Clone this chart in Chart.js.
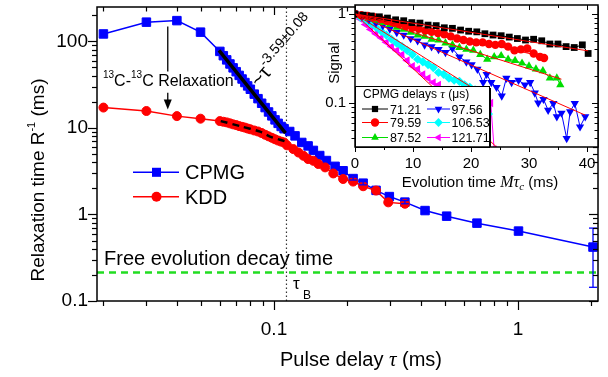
<!DOCTYPE html>
<html><head><meta charset="utf-8">
<script src="https://cdn.jsdelivr.net/npm/chart.js@4.4.1/dist/chart.umd.min.js"></script>
<style>
html,body{margin:0;padding:0;background:#fff;}
#wrap{position:relative;width:608px;height:377px;overflow:hidden;}
#main{position:absolute;left:0;top:0;}
#inset{position:absolute;left:300px;top:0;}
</style></head><body>
<div id="wrap"><canvas id="main" width="608" height="377"></canvas><canvas id="inset" width="308" height="195"></canvas></div>
<script>
// ================= DATA (main chart) =================
const cpmgTau = [0.02,0.03,0.04,0.05,0.060,0.062,0.064,0.066,0.068,0.070,0.072,0.074,0.076,0.078,0.080,0.083,0.086,0.089,0.092,0.095,0.098,0.101,0.104,0.107,0.110,0.116,0.122,0.130,0.138,0.145,0.154,0.164,0.178,0.192,0.211,0.232,0.262,0.297,0.344,0.416,0.510,0.679,1.005,2.03];
const cpmgR   = [122,167,174,128,76.7,68.4,61.2,54.9,49.5,44.7,40.5,36.8,33.5,30.6,28.0,24.6,21.8,19.3,17.2,15.3,13.8,12.4,11.3,10.4,9.8,9.1,8.1,6.8,6.2,5.5,4.8,4.2,3.6,3.2,2.6,2.3,1.9,1.61,1.39,1.11,0.956,0.794,0.643,0.42];
const kddTau  = [0.02,0.03,0.04,0.05,0.060,0.062,0.064,0.066,0.068,0.070,0.072,0.074,0.076,0.078,0.080,0.083,0.086,0.089,0.092,0.095,0.098,0.101,0.104,0.107,0.110,0.113,0.120,0.126,0.132,0.138,0.145,0.152,0.162,0.175,0.192,0.211,0.232,0.262,0.294,0.344];
const kddR    = [17.2,15.7,13.7,12.8,12.0,11.8,11.6,11.3,11.0,10.8,10.5,10.3,10.1,9.85,9.65,9.35,9.1,8.75,8.35,8.0,7.7,7.4,7.15,6.95,6.8,6.3,5.7,5.2,4.77,4.37,4.17,3.83,3.5,2.98,2.57,2.4,2.12,1.89,1.38,1.33];
const cpmgErrTau = [0.211,0.232,0.344,2.03];
const cpmgErrLo  = [2.5,2.2,1.33,0.144];
const cpmgErrHi  = [2.7,2.4,1.45,0.696];
const kddErrTau  = [0.232,0.294,0.344];
const kddErrLo   = [2.02,1.30,1.24];
const kddErrHi   = [2.22,1.47,1.43];
const fitCpmgTau = [0.0595,0.1115];
const fitCpmgR   = [79,8.7];
const fitKddTau  = [0.0605,0.0726,0.0877,0.0963,0.1105];
const fitKddR    = [12.0,10.5,9.06,7.95,7.05];
const freeDecayR = 0.214;
const tauB = 0.1125;
const xTickVals = [0.1,1];
const yTickVals = [0.1,1,10,100];
// ================= DATA (inset) =================
const t71 = [0,1.4,2.8,4.2,5.6,7,8.4,9.8,11.2,12.6,14,15.4,16.8,18.2,19.6,21,22.4,23.8,25.2,26.6,28,29.4,30.8,32.2,33.6,35,36.4,37.8,39.2,40.2];
const s71 = [1,0.97,0.95,0.93,0.90,0.86,0.84,0.80,0.79,0.75,0.74,0.70,0.69,0.66,0.64,0.63,0.60,0.58,0.57,0.55,0.53,0.51,0.52,0.50,0.46,0.46,0.43,0.42,0.45,0.36];
const t80 = [0,1.1,2.2,3.3,4.4,5.5,6.6,7.7,8.8,9.9,11,12.1,13.2,14.3,15.4,16.5,17.6,18.7,19.8,20.9,22,23.1,24.2,25.3,26.4,27.5,28.6,29.7,30.8,31.9,32.6];
const s80 = [1,0.97,0.95,0.92,0.88,0.84,0.80,0.77,0.73,0.70,0.68,0.65,0.63,0.61,0.59,0.56,0.53,0.51,0.49,0.48,0.48,0.46,0.45,0.46,0.43,0.39,0.40,0.41,0.36,0.33,0.32];
const t88 = [0,1.2,2.4,3.6,4.8,6,7.2,8.4,9.6,10.8,12,13.2,14.4,15.6,16.8,18,19.2,20.4,21.6,22.8,24,25.2,26.4,27.6,28.8,30,31.2,32.4,33.6,34.8,35.4];
const s88 = [1,0.95,0.90,0.85,0.80,0.76,0.71,0.67,0.62,0.58,0.56,0.52,0.51,0.47,0.45,0.42,0.40,0.39,0.35,0.31,0.33,0.34,0.31,0.30,0.28,0.26,0.24,0.23,0.19,0.19,0.16];
const t98 = [0,1.2,2.4,3.6,4.8,6,7.2,8.4,9.6,10.8,12,13.2,14.4,15.6,16.8,18,19.2,20.1,21.1,22.1,22.7,23.5,24.4,25.3,26.1,27,28.2,29.3,30.2,31,31.6,32.5,33.3,34.2,34.8,35.6,36.5,37.1,37.9,38.8,39.7];
const s98 = [1,0.93,0.86,0.79,0.74,0.68,0.62,0.58,0.53,0.50,0.45,0.43,0.40,0.37,0.41,0.33,0.29,0.27,0.24,0.17,0.21,0.17,0.15,0.12,0.19,0.17,0.18,0.16,0.17,0.13,0.10,0.11,0.083,0.099,0.07,0.077,0.04,0.08,0.099,0.054,0.07];
const t107 = [0,0.9,1.8,2.7,3.6,4.5,5.4,6.3,7.2,8.1,9,9.9,10.8,11.7,12.6,13.5,14.4,15.3,16.2,17.1,18,18.9,19.8,20.7,21.6,22.5,23.0];
const s107 = [1,0.92,0.85,0.78,0.71,0.64,0.58,0.52,0.47,0.43,0.39,0.35,0.31,0.29,0.27,0.25,0.22,0.21,0.19,0.18,0.175,0.16,0.15,0.14,0.12,0.09,0.075];
const t122 = [0,0.9,1.8,2.7,3.6,4.5,5.4,6.3,7.2,8.1,9,9.9,10.8,11.7,12.6,13.5,14.4,15.3,16.2,17.1,18,18.9,19.8,20.7,21.6,22.5,23.4,24.0];
const s122 = [1,0.88,0.76,0.67,0.60,0.54,0.48,0.43,0.39,0.35,0.30,0.26,0.24,0.21,0.19,0.17,0.16,0.13,0.12,0.11,0.10,0.09,0.08,0.075,0.07,0.085,0.10,0.03];
const fitT = [[0,40.2],[0,32.6],[0,35.6],[0,39.7],[0,23.0],[0,24.4]];
const fitS = [[1,0.385],[1,0.33],[1,0.185],[1,0.073],[1,0.114],[1,0.032]];
const insetLabels = ['71.21','79.59','87.52','97.56','106.53','121.71'];
const insetXTicks = [0,10,20,30,40];
const insetYTicks = [0.1,1];

// ================= helpers =================
const FONT = '"Liberation Sans", Arial, Helvetica, sans-serif';
const SERIF = '"Liberation Serif", "Times New Roman", serif';
const pts = (xs, ys) => xs.map((x, i) => ({x: x, y: ys[i]}));
function rich(ctx, x, y, parts, align) {
  let w = 0;
  for (const p of parts) { ctx.font = p.f; p.w = ctx.measureText(p.t).width; w += p.w; }
  let cx = align === 'center' ? x - w / 2 : (align === 'right' ? x - w : x);
  for (const p of parts) { ctx.font = p.f; ctx.fillText(p.t, cx, y + (p.dy || 0)); cx += p.w; }
}
function marker(ctx, style, x, y, r, rot) {
  ctx.beginPath();
  if (style === 'rect') { const s = r * Math.SQRT1_2; ctx.rect(x - s, y - s, 2 * s, 2 * s); }
  else if (style === 'circle') { ctx.arc(x, y, r, 0, Math.PI * 2); }
  else if (style === 'rectRot') { ctx.moveTo(x, y - r); ctx.lineTo(x + r, y); ctx.lineTo(x, y + r); ctx.lineTo(x - r, y); ctx.closePath(); }
  else if (style === 'triangle') {
    let a = (rot || 0) * Math.PI / 180;
    for (let i = 0; i < 3; i++) { const px = x + Math.sin(a) * r, py = y - Math.cos(a) * r; if (i) ctx.lineTo(px, py); else ctx.moveTo(px, py); a += 2 * Math.PI / 3; }
    ctx.closePath();
  }
  ctx.fill();
}
function logTicks(min, max) {
  const out = [];
  for (let e = Math.floor(Math.log10(min)) - 1; e <= Math.ceil(Math.log10(max)); e++) {
    for (let k = 1; k < 10; k++) {
      const v = parseFloat((k * Math.pow(10, e)).toPrecision(6));
      if (v >= min * 0.9999 && v <= max * 1.0001) out.push({v: v, major: k === 1});
    }
  }
  return out;
}
function seg(ctx, x1, y1, x2, y2) { ctx.beginPath(); ctx.moveTo(x1, y1); ctx.lineTo(x2, y2); ctx.stroke(); }
function fixH(h) { return s => { s.height = h; s.paddingLeft = 0; s.paddingRight = 0; s.paddingTop = 0; s.paddingBottom = 0; }; }
function fixW(w) { return s => { s.width = w; s.paddingLeft = 0; s.paddingRight = 0; s.paddingTop = 0; s.paddingBottom = 0; }; }

// ================= MAIN CHART =================
const X_MIN = 0.01882, X_MAX = 2.128, Y_MIN = 0.1, Y_MAX = 250;

const mainDecor = {
  id: 'mainDecor',
  afterDatasetsDraw(chart) {
    const ctx = chart.ctx, xs = chart.scales.x, ys = chart.scales.y;
    ctx.save();
    const eb = (taus, lo, hi, color, cap) => {
      ctx.strokeStyle = color; ctx.lineWidth = 1.3;
      taus.forEach((t, i) => {
        const px = xs.getPixelForValue(t), y1 = ys.getPixelForValue(lo[i]), y2 = ys.getPixelForValue(hi[i]);
        seg(ctx, px, y1, px, y2); seg(ctx, px - cap, y1, px + cap, y1); seg(ctx, px - cap, y2, px + cap, y2);
      });
    };
    eb(kddErrTau, kddErrLo, kddErrHi, '#ff0000', 3.5);
    eb(cpmgErrTau, cpmgErrLo, cpmgErrHi, '#0000ff', 4);
    // arrow (13C-13C relaxation)
    const ax = xs.getPixelForValue(0.0367);
    ctx.strokeStyle = '#000'; ctx.fillStyle = '#000'; ctx.lineWidth = 1.3;
    seg(ctx, ax, ys.getPixelForValue(149), ax, ys.getPixelForValue(45));
    const tipY = ys.getPixelForValue(16.3);
    seg(ctx, ax, ys.getPixelForValue(25.5), ax, tipY - 8);
    ctx.beginPath(); ctx.moveTo(ax, tipY); ctx.lineTo(ax - 4, tipY - 10); ctx.lineTo(ax + 4, tipY - 10); ctx.closePath(); ctx.fill();
    ctx.restore();
  },
  afterDraw(chart) {
    const ctx = chart.ctx, xs = chart.scales.x, ys = chart.scales.y, a = chart.chartArea;
    ctx.save();
    ctx.strokeStyle = '#000'; ctx.lineWidth = 1.2;
    logTicks(xs.min, xs.max).forEach(t => {
      const px = Math.round(xs.getPixelForValue(t.v)) + 0.5;
      seg(ctx, px, a.bottom, px, a.bottom + (t.major ? 9 : 5));
      seg(ctx, px, a.top, px, a.top + (t.major ? 8 : 4.5));
    });
    logTicks(ys.min, ys.max).forEach(t => {
      const py = Math.round(ys.getPixelForValue(t.v)) + 0.5;
      seg(ctx, a.left, py, a.left - (t.major ? 9 : 5), py);
      seg(ctx, a.right, py, a.right - (t.major ? 9 : 5), py);
    });
    ctx.lineWidth = 1.5;
    ctx.strokeRect(a.left, a.top, a.right - a.left, a.bottom - a.top);
    ctx.fillStyle = '#000'; ctx.textBaseline = 'alphabetic';
    rich(ctx, 361, 366, [{t: 'Pulse delay ', f: '20px ' + FONT}, {t: 'τ', f: 'italic 21px ' + SERIF}, {t: ' (ms)', f: '20px ' + FONT}], 'center');
    ctx.save(); ctx.translate(44, 180); ctx.rotate(-Math.PI / 2);
    rich(ctx, 0, 0, [{t: 'Relaxation time R', f: '19px ' + FONT}, {t: '-1', f: '11px ' + FONT, dy: -9}, {t: ' (ms)', f: '19px ' + FONT}], 'center');
    ctx.restore();
    const lg = [{y: 172.3, c: '#0000ff', s: 'rect', r: 6.4, t: 'CPMG', ty: 178.5}, {y: 196.7, c: '#ff0000', s: 'circle', r: 5, t: 'KDD', ty: 203.5}];
    lg.forEach(e => {
      ctx.strokeStyle = e.c; ctx.fillStyle = e.c; ctx.lineWidth = 1.5;
      seg(ctx, 133, e.y, 179, e.y); marker(ctx, e.s, 156.5, e.y, e.r);
      ctx.fillStyle = '#000'; ctx.font = '20px ' + FONT; ctx.fillText(e.t, 185, e.ty);
    });
    rich(ctx, 103, 86, [{t: '13', f: '10px ' + FONT, dy: -8}, {t: 'C-', f: '16px ' + FONT}, {t: '13', f: '10px ' + FONT, dy: -8}, {t: 'C Relaxation', f: '16px ' + FONT}], 'left');
    ctx.font = '20px ' + FONT; ctx.fillText('Free evolution decay time', 104, 265);
    ctx.font = '17px ' + FONT; ctx.fillText('τ', 293, 288.5);
    ctx.font = '12px ' + FONT; ctx.fillText('B', 303, 298.5);
    ctx.save(); ctx.translate(259, 88); ctx.rotate(-49 * Math.PI / 180);
    rich(ctx, 0, 0, [{t: '~τ', f: '20px ' + FONT}, {t: '-3.59±0.08', f: '14px ' + FONT, dy: -9}], 'left');
    ctx.restore();
    ctx.restore();
  }
};

new Chart(document.getElementById('main'), {
  type: 'scatter',
  data: {
    datasets: [
      {label: 'fitCPMG', data: pts(fitCpmgTau, fitCpmgR), showLine: true, borderColor: '#000', borderWidth: 3.5, pointRadius: 0, order: 0},
      {label: 'fitKDD', data: pts(fitKddTau, fitKddR), showLine: true, borderColor: '#000', borderWidth: 2.5, borderDash: [7, 5], pointRadius: 0, tension: 0.3, order: 0},
      {label: 'KDD', data: pts(kddTau, kddR), showLine: true, borderColor: '#ff0000', backgroundColor: '#ff0000', borderWidth: 1.5, pointStyle: 'circle', pointRadius: 4.5, pointBorderWidth: 1, order: 1},
      {label: 'CPMG', data: pts(cpmgTau, cpmgR), showLine: true, borderColor: '#0000ff', backgroundColor: '#0000ff', borderWidth: 1.5, pointStyle: 'rect', pointRadius: 6, pointBorderWidth: 1, order: 2},
      {label: 'free', data: pts([X_MIN, X_MAX], [freeDecayR, freeDecayR]), showLine: true, borderColor: '#22dd22', borderWidth: 2.5, borderDash: [7, 5], pointRadius: 0, order: 3},
      {label: 'tauB', data: pts([tauB, tauB], [Y_MIN, Y_MAX]), showLine: true, borderColor: '#333', borderWidth: 1.2, borderDash: [1.5, 2.5], pointRadius: 0, order: 4}
    ]
  },
  options: {
    responsive: false, animation: false, devicePixelRatio: 1,
    layout: {padding: {left: 0, right: 10, top: 5, bottom: 0}},
    plugins: {legend: {display: false}, tooltip: {enabled: false}},
    scales: {
      x: {type: 'logarithmic', min: X_MIN, max: X_MAX,
          afterBuildTicks: s => { s.ticks = xTickVals.map(v => ({value: v})); },
          afterFit: fixH(76),
          grid: {display: false, drawTicks: false}, border: {display: false},
          ticks: {color: '#000', font: {family: FONT, size: 19}, padding: 17, autoSkip: false, maxRotation: 0, callback: v => String(v)}},
      y: {type: 'logarithmic', min: Y_MIN, max: Y_MAX,
          afterBuildTicks: s => { s.ticks = yTickVals.map(v => ({value: v})); },
          afterFit: fixW(97),
          grid: {display: false, drawTicks: false}, border: {display: false},
          ticks: {color: '#000', font: {family: FONT, size: 19}, padding: 9, autoSkip: false, callback: v => String(v)}}
    }
  },
  plugins: [mainDecor]
});

// ================= INSET CHART =================
const IX_MIN = 0, IX_MAX = 41.9, IY_MIN = 0.032, IY_MAX = 1.262;
const insetStyles = [
  {c: '#000000', s: 'rect', r: 4.8, rot: 0},
  {c: '#ff0000', s: 'circle', r: 4.2, rot: 0},
  {c: '#00dd00', s: 'triangle', r: 4.8, rot: 0},
  {c: '#0000ff', s: 'triangle', r: 4.8, rot: 180},
  {c: '#00ffff', s: 'rectRot', r: 4.6, rot: 0},
  {c: '#ff00ff', s: 'triangle', r: 4.8, rot: -90}
];
const insetT = [t71, t80, t88, t98, t107, t122];
const insetS = [s71, s80, s88, s98, s107, s122];

const insetDecor = {
  id: 'insetDecor',
  beforeDraw(chart) {
    const ctx = chart.ctx, a = chart.chartArea;
    ctx.save(); ctx.fillStyle = '#fff'; ctx.fillRect(a.left, a.top, a.right - a.left, a.bottom - a.top); ctx.restore();
  },
  afterDraw(chart) {
    const ctx = chart.ctx, xs = chart.scales.x, ys = chart.scales.y, a = chart.chartArea;
    ctx.save();
    const L = 55, T = 86, R = 190, B = 147;
    ctx.fillStyle = '#fff'; ctx.fillRect(L, T, R - L, B - T);
    ctx.strokeStyle = '#000'; ctx.lineWidth = 1; ctx.strokeRect(L + 0.5, T + 0.5, R - L - 1, B - T);
    ctx.lineWidth = 2; seg(ctx, R, T + 2, R, B);
    ctx.fillStyle = '#000'; ctx.textBaseline = 'alphabetic';
    rich(ctx, 63, 98, [{t: 'CPMG delays ', f: '12px ' + FONT}, {t: 'τ', f: 'italic 13px ' + SERIF}, {t: ' (μs)', f: '12px ' + FONT}], 'left');
    const rowsY = [109, 122.5, 137.5], txtY = [113.5, 127, 142];
    const cols = [{x1: 62, x2: 88, mx: 75, tx: 90}, {x1: 127, x2: 150, mx: 138.5, tx: 151.5}];
    insetStyles.forEach((st, i) => {
      const col = cols[Math.floor(i / 3)], row = i % 3;
      ctx.strokeStyle = st.c; ctx.fillStyle = st.c; ctx.lineWidth = 1;
      seg(ctx, col.x1, rowsY[row], col.x2, rowsY[row]);
      marker(ctx, st.s, col.mx, rowsY[row], Math.min(st.r, 4.4), st.rot);
      ctx.fillStyle = '#000'; ctx.font = '12.5px ' + FONT; ctx.fillText(insetLabels[i], col.tx, txtY[row]);
    });
    ctx.strokeStyle = '#000'; ctx.lineWidth = 1;
    for (let v = 0; v <= 40; v += 5) {
      const px = Math.round(xs.getPixelForValue(v)) + 0.5, maj = v % 10 === 0;
      seg(ctx, px, a.bottom, px, a.bottom + (maj ? 5 : 3));
      seg(ctx, px, a.top, px, a.top + (maj ? 5 : 3));
    }
    logTicks(ys.min, ys.max).forEach(t => {
      const py = Math.round(ys.getPixelForValue(t.v)) + 0.5;
      seg(ctx, a.left, py, a.left - (t.major ? 6 : 3.5), py);
      seg(ctx, a.right, py, a.right - (t.major ? 6 : 3.5), py);
    });
    ctx.lineWidth = 1.5;
    ctx.strokeRect(a.left, a.top, a.right - a.left, a.bottom - a.top);
    ctx.fillStyle = '#000';
    rich(ctx, 180, 187, [{t: 'Evolution time ', f: '15px ' + FONT}, {t: 'Mτ', f: 'italic 16px ' + SERIF}, {t: 'c', f: 'italic 11px ' + SERIF, dy: 3}, {t: ' (ms)', f: '15px ' + FONT}], 'center');
    ctx.save(); ctx.translate(38.5, 63); ctx.rotate(-Math.PI / 2);
    ctx.font = '15px ' + FONT; ctx.textAlign = 'center'; ctx.fillText('Signal', 0, 0);
    ctx.restore();
    ctx.restore();
  }
};

const insetDatasets = [];
fitT.forEach((ft, i) => insetDatasets.push({label: 'fit' + i, data: pts(ft, fitS[i]), showLine: true, borderColor: '#ff0000', borderWidth: 1, pointRadius: 0, order: 0}));
insetStyles.forEach((st, i) => insetDatasets.push({
  label: insetLabels[i], data: pts(insetT[i], insetS[i]), showLine: true,
  borderColor: st.c, backgroundColor: st.c, borderWidth: 1,
  pointStyle: st.s, pointRadius: st.r, pointRotation: st.rot, pointBorderWidth: 0, order: 1 + i
}));

new Chart(document.getElementById('inset'), {
  type: 'scatter',
  data: {datasets: insetDatasets},
  options: {
    responsive: false, animation: false, devicePixelRatio: 1,
    layout: {padding: {left: 0, right: 10, top: 5, bottom: 0}},
    plugins: {legend: {display: false}, tooltip: {enabled: false}},
    scales: {
      x: {type: 'linear', min: IX_MIN, max: IX_MAX,
          afterBuildTicks: s => { s.ticks = insetXTicks.map(v => ({value: v})); },
          afterFit: fixH(48),
          grid: {display: false, drawTicks: false}, border: {display: false},
          ticks: {color: '#000', font: {family: FONT, size: 15}, padding: 8, autoSkip: false, maxRotation: 0}},
      y: {type: 'logarithmic', min: IY_MIN, max: IY_MAX,
          afterBuildTicks: s => { s.ticks = insetYTicks.map(v => ({value: v})); },
          afterFit: fixW(55),
          grid: {display: false, drawTicks: false}, border: {display: false},
          ticks: {color: '#000', font: {family: FONT, size: 15}, padding: 9, autoSkip: false, callback: v => String(v)}}
    }
  },
  plugins: [insetDecor]
});
</script>
</body></html>
